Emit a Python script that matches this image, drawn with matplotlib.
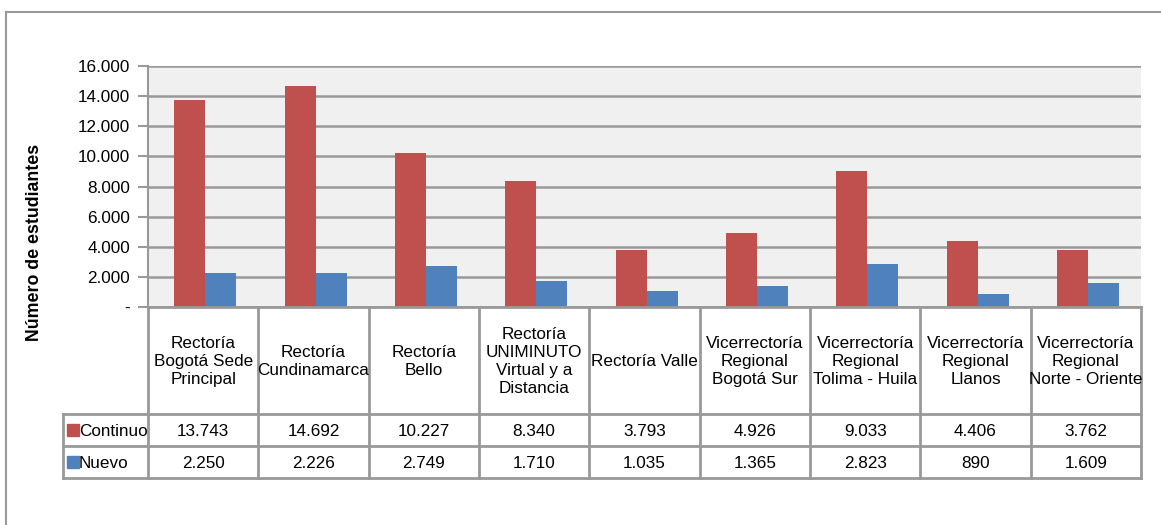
import numpy as np
import matplotlib
matplotlib.use("Agg")
import matplotlib.pyplot as plt
from matplotlib.transforms import blended_transform_factory
from matplotlib.ticker import FuncFormatter

plt.rcParams['font.family'] = ['Liberation Sans', 'DejaVu Sans']

categorias = [
    "Rectoría\nBogotá Sede\nPrincipal",
    "Rectoría\nCundinamarca",
    "Rectoría\nBello",
    "Rectoría\nUNIMINUTO\nVirtual y a\nDistancia",
    "Rectoría Valle",
    "Vicerrectoría\nRegional\nBogotá Sur",
    "Vicerrectoría\nRegional\nTolima - Huila",
    "Vicerrectoría\nRegional\nLlanos",
    "Vicerrectoría\nRegional\nNorte - Oriente",
]
continuo = [13743, 14692, 10227, 8340, 3793, 4926, 9033, 4406, 3762]
nuevo = [2250, 2226, 2749, 1710, 1035, 1365, 2823, 890, 1609]
series = ["Continuo", "Nuevo"]
colores = ["#C0504D", "#4F81BD"]

FS = 12.3

W, H = 1161, 525
fig = plt.figure(figsize=(W / 100, H / 100), dpi=100)

# plot area in pixels
x0, x1, ytop, ybot = 148, 1141, 66, 307
ax = fig.add_axes([x0 / W, 1 - ybot / H, (x1 - x0) / W, (ybot - ytop) / H])
ax.set_facecolor("#F0F0F0")

x = np.arange(len(categorias))
ancho = 0.28
ax.bar(x - ancho / 2 + 0.02, continuo, ancho, color=colores[0], zorder=3)
ax.bar(x + ancho / 2 + 0.02, nuevo, ancho, color=colores[1], zorder=3)

ax.set_xlim(-0.5, len(categorias) - 0.5)
ax.set_ylim(0, 16000)
ax.set_yticks(np.arange(0, 16001, 2000))
ax.yaxis.set_major_formatter(FuncFormatter(
    lambda v, p: "-" if v == 0 else f"{int(v):,}".replace(",", ".")))
ax.tick_params(axis="y", length=7, width=1.5, color="#999999", labelsize=FS, pad=6)
ax.set_xticks([])
ax.grid(axis="y", color="#999999", linewidth=1.8, zorder=1)
for s in ["top", "right", "bottom"]:
    ax.spines[s].set_visible(False)
ax.spines["left"].set_color("#999999")
ax.spines["left"].set_linewidth(1.5)

# overlay in pixel coordinates for the frame and the data table
over = fig.add_axes([0, 0, 1, 1], zorder=5)
over.set_xlim(0, W)
over.set_ylim(H, 0)
over.axis("off")
over.patch.set_alpha(0)

gris = "#999999"
over.plot([6, 6], [12, H], color=gris, lw=1.5, clip_on=False)
over.plot([6, W], [12, 12], color=gris, lw=1.5, clip_on=False)

fig.text(35 / W, 1 - 242 / H, "Número de estudiantes", rotation=90,
         ha="center", va="center", fontsize=12.8, fontweight="bold")

trans = blended_transform_factory(ax.transData, over.transData)
y_head, y_r1, y_r2, y_end = 307, 414, 446, 478
x_leg = 63
lw_t = 2

# horizontal table lines
over.plot([x0, x1], [y_head, y_head], color=gris, lw=lw_t)
for yy in [y_r1, y_r2, y_end]:
    over.plot([x_leg, x1], [yy, yy], color=gris, lw=lw_t)
over.plot([x_leg, x_leg], [y_r1, y_end], color=gris, lw=lw_t)
# vertical lines at category boundaries
for b in np.arange(len(categorias) + 1) - 0.5:
    over.plot([b, b], [y_head, y_end], color=gris, lw=lw_t, transform=trans)

for i, cat in enumerate(categorias):
    over.text(i, (y_head + y_r1) / 2 + 1, cat, ha="center", va="center",
              fontsize=FS, transform=trans, linespacing=1.25)
    for vals, (ya, yb) in [(continuo, (y_r1, y_r2)), (nuevo, (y_r2, y_end))]:
        over.text(i, (ya + yb) / 2 + 1, f"{vals[i]:,}".replace(",", "."),
                  ha="center", va="center", fontsize=FS, transform=trans)

# legend keys in the table
for nombre, color, (ya, yb) in zip(series, colores, [(y_r1, y_r2), (y_r2, y_end)]):
    yc = (ya + yb) / 2
    over.add_patch(plt.Rectangle((67, yc - 6), 12, 12, color=color))
    over.text(79, yc + 1, nombre, ha="left", va="center", fontsize=FS)

fig.savefig("out.png", dpi=100)
